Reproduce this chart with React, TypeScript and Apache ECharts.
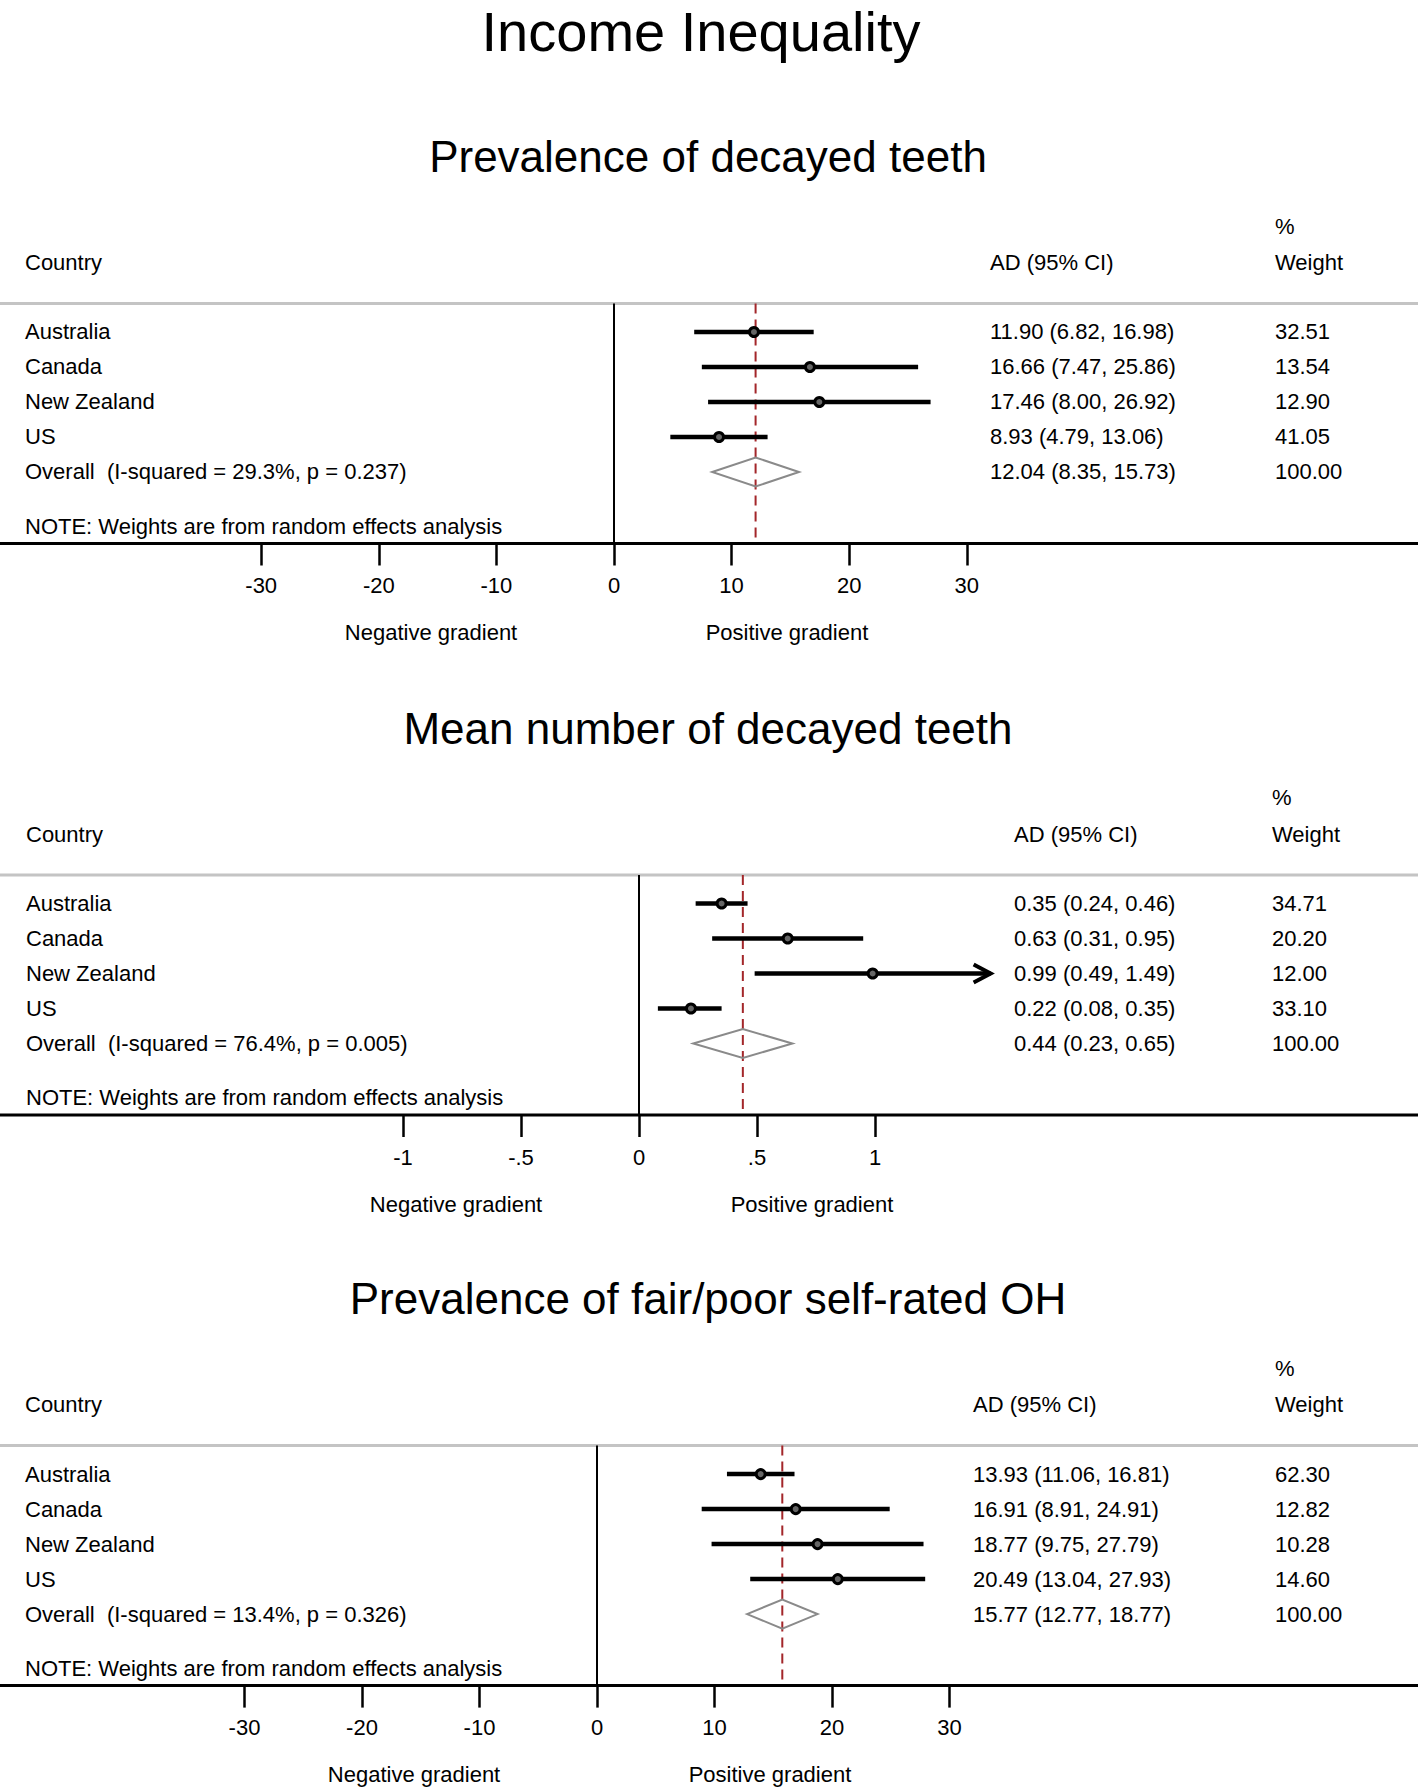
import React, { useEffect, useRef } from "react";
import * as echarts from "echarts";

// ---------- data ----------
const mainTitle = "Income Inequality";
const panelTitles = [
  "Prevalence of decayed teeth",
  "Mean number of decayed teeth",
  "Prevalence of fair/poor self-rated OH",
];
const countries = ["Australia", "Canada", "New Zealand", "US"];

const p1Est = [11.9, 16.66, 17.46, 8.93];
const p1Lo = [6.82, 7.47, 8.0, 4.79];
const p1Hi = [16.98, 25.86, 26.92, 13.06];
const p1Wt = ["32.51", "13.54", "12.90", "41.05"];
const p1Overall = [12.04, 8.35, 15.73];
const p1Stats = "(I-squared = 29.3%, p = 0.237)";
const p1Ticks = [-30, -20, -10, 0, 10, 20, 30];
const p1TickLabels = ["-30", "-20", "-10", "0", "10", "20", "30"];

const p2Est = [0.35, 0.63, 0.99, 0.22];
const p2Lo = [0.24, 0.31, 0.49, 0.08];
const p2Hi = [0.46, 0.95, 1.49, 0.35];
const p2Wt = ["34.71", "20.20", "12.00", "33.10"];
const p2Overall = [0.44, 0.23, 0.65];
const p2Stats = "(I-squared = 76.4%, p = 0.005)";
const p2Ticks = [-1, -0.5, 0, 0.5, 1];
const p2TickLabels = ["-1", "-.5", "0", ".5", "1"];

const p3Est = [13.93, 16.91, 18.77, 20.49];
const p3Lo = [11.06, 8.91, 9.75, 13.04];
const p3Hi = [16.81, 24.91, 27.79, 27.93];
const p3Wt = ["62.30", "12.82", "10.28", "14.60"];
const p3Overall = [15.77, 12.77, 18.77];
const p3Stats = "(I-squared = 13.4%, p = 0.326)";
const p3Ticks = [-30, -20, -10, 0, 10, 20, 30];
const p3TickLabels = ["-30", "-20", "-10", "0", "10", "20", "30"];

const overallLabel = "Overall";
const overallWeight = "100.00";
const noteText = "NOTE: Weights are from random effects analysis";
const headerCountry = "Country";
const headerAD = "AD (95% CI)";
const headerPct = "%";
const headerWeight = "Weight";
const negLabel = "Negative gradient";
const posLabel = "Positive gradient";

// ---------- layout ----------
const W = 1418;
const H = 1789;
const FONT = '"Liberation Sans", Arial, Helvetica, sans-serif';
const FS = 22;
const ROW_MIN = 0.1857; // axis range in row units (top of plot region)
const ROW_MAX = 7.043; // bottom (axis line)
const PLOT_H = 240;

const panels = [
  { title: panelTitles[0], G: 303.5, zeroX: 614, ppu: 11.76, est: p1Est, lo: p1Lo, hi: p1Hi, wt: p1Wt, overall: p1Overall, stats: p1Stats, ticks: p1Ticks, tickLabels: p1TickLabels, adX: 990, wX: 1275, cX: 25 },
  { title: panelTitles[1], G: 875, zeroX: 639, ppu: 236, est: p2Est, lo: p2Lo, hi: p2Hi, wt: p2Wt, overall: p2Overall, stats: p2Stats, ticks: p2Ticks, tickLabels: p2TickLabels, adX: 1014, wX: 1272, cX: 26 },
  { title: panelTitles[2], G: 1445.6, zeroX: 597, ppu: 11.75, est: p3Est, lo: p3Lo, hi: p3Hi, wt: p3Wt, overall: p3Overall, stats: p3Stats, ticks: p3Ticks, tickLabels: p3TickLabels, adX: 973, wX: 1275, cX: 25 },
];

const fmt = (v: number) => v.toFixed(2);
const ciText = (e: number, l: number, h: number) => `${fmt(e)} (${fmt(l)}, ${fmt(h)})`;

function txt(x: number, y: number, text: string, size = FS, align = "left") {
  return {
    type: "text",
    x,
    y,
    silent: true,
    style: {
      text,
      fill: "#000",
      font: `${size}px ${FONT}`,
      fontSize: size,
      fontFamily: FONT,
      align,
      textAlign: align,
      verticalAlign: "middle",
      textVerticalAlign: "middle",
    },
  };
}

function buildOption() {
  const grids: any[] = [];
  const xAxes: any[] = [];
  const yAxes: any[] = [];
  const series: any[] = [];
  const graphics: any[] = [];

  graphics.push(txt(701, 31, mainTitle, 56, "center"));

  panels.forEach((P, k) => {
    const tMin = P.ticks[0];
    const tMax = P.ticks[P.ticks.length - 1];
    const interval = P.ticks[1] - P.ticks[0];
    grids.push({
      left: P.zeroX + tMin * P.ppu,
      width: (tMax - tMin) * P.ppu,
      top: P.G,
      height: PLOT_H,
      containLabel: false,
    });
    xAxes.push({
      type: "value",
      gridIndex: k,
      min: tMin,
      max: tMax,
      interval,
      axisLine: { show: false },
      splitLine: { show: false },
      axisTick: { show: true, length: 22, lineStyle: { color: "#000", width: 2.5 } },
      axisLabel: {
        margin: 31,
        color: "#000",
        fontSize: FS,
        fontFamily: FONT,
        formatter: (v: number) => {
          const i = P.ticks.findIndex((t) => Math.abs(t - v) < 1e-9);
          return i >= 0 ? P.tickLabels[i] : "";
        },
      },
    });
    yAxes.push({
      type: "value",
      gridIndex: k,
      inverse: true,
      min: ROW_MIN,
      max: ROW_MAX,
      show: false,
    });

    // static graphics for panel
    graphics.push(txt(708, P.G - 147, P.title, 44, "center"));
    graphics.push(txt(P.cX, P.G - 41, headerCountry));
    graphics.push(txt(P.adX, P.G - 41, headerAD));
    graphics.push(txt(P.wX, P.G - 77.5, headerPct));
    graphics.push(txt(P.wX, P.G - 41, headerWeight));
    graphics.push({
      type: "line",
      silent: true,
      shape: { x1: 0, y1: P.G, x2: W, y2: P.G },
      style: { stroke: "#c4c4c4", lineWidth: 3 },
    });
    graphics.push({
      type: "line",
      silent: true,
      shape: { x1: 0, y1: P.G + PLOT_H, x2: W, y2: P.G + PLOT_H },
      style: { stroke: "#000", lineWidth: 3 },
    });
    graphics.push(txt(P.cX, P.G + 222.5, noteText));
    graphics.push(txt(P.zeroX - 183, P.G + 329, negLabel, FS, "center"));
    graphics.push(txt(P.zeroX + 173, P.G + 329, posLabel, FS, "center"));

    // zero line
    series.push({
      type: "custom",
      xAxisIndex: k,
      yAxisIndex: k,
      z: 1,
      silent: true,
      data: [[0]],
      renderItem: (params: any, api: any) => {
        const a = api.coord([api.value(0), ROW_MIN]);
        const b = api.coord([api.value(0), ROW_MAX]);
        return {
          type: "line",
          shape: { x1: a[0], y1: a[1], x2: b[0], y2: b[1] },
          style: { stroke: "#000", lineWidth: 2 },
        };
      },
    });

    // overall: dashed line + diamond + texts
    const ov = P.overall;
    series.push({
      type: "custom",
      xAxisIndex: k,
      yAxisIndex: k,
      z: 1,
      silent: true,
      data: [[ov[0], ov[1], ov[2], 5]],
      renderItem: (params: any, api: any) => {
        const e = api.value(0), l = api.value(1), h = api.value(2), row = api.value(3);
        const top = api.coord([e, ROW_MIN]);
        const bot = api.coord([e, ROW_MAX]);
        const pe = api.coord([e, row]);
        const pl = api.coord([l, row]);
        const ph = api.coord([h, row]);
        return {
          type: "group",
          children: [
            {
              type: "line",
              shape: { x1: top[0], y1: top[1], x2: bot[0], y2: bot[1] },
              style: { stroke: "#a3262a", lineWidth: 2, lineDash: [10, 6] },
            },
            {
              type: "polygon",
              shape: {
                points: [
                  [pl[0], pl[1]],
                  [pe[0], pe[1] - 14.5],
                  [ph[0], ph[1]],
                  [pe[0], pe[1] + 14.5],
                ],
              },
              style: { fill: "none", stroke: "#8a8a8a", lineWidth: 2 },
            },
            txt(P.cX, pe[1], `${overallLabel}  ${P.stats}`),
            txt(P.adX, pe[1], ciText(e, l, h)),
            txt(P.wX, pe[1], overallWeight),
          ],
        };
      },
    });

    // country rows
    series.push({
      type: "custom",
      xAxisIndex: k,
      yAxisIndex: k,
      z: 3,
      silent: true,
      data: countries.map((c, i) => [P.est[i], P.lo[i], P.hi[i], i + 1]),
      renderItem: (params: any, api: any) => {
        const i = params.dataIndex;
        const e = api.value(0), l = api.value(1), h = api.value(2), row = api.value(3);
        const pe = api.coord([e, row]);
        const pl = api.coord([l, row]);
        const ph = api.coord([h, row]);
        const children: any[] = [
          {
            type: "line",
            shape: { x1: pl[0], y1: pl[1], x2: ph[0], y2: ph[1] },
            style: { stroke: "#000", lineWidth: 4.5 },
          },
        ];
        if (h > tMax) {
          children.push({
            type: "polyline",
            shape: {
              points: [
                [ph[0] - 17, ph[1] - 9],
                [ph[0], ph[1]],
                [ph[0] - 17, ph[1] + 9],
              ],
            },
            style: { stroke: "#000", lineWidth: 4, fill: "none" },
          });
        }
        children.push({
          type: "circle",
          shape: { cx: pe[0], cy: pe[1], r: 4.5 },
          style: { fill: "#666", stroke: "#000", lineWidth: 3 },
        });
        children.push(txt(P.cX, pe[1], countries[i]));
        children.push(txt(P.adX, pe[1], ciText(e, l, h)));
        children.push(txt(P.wX, pe[1], P.wt[i]));
        return { type: "group", children };
      },
    });
  });

  return {
    animation: false,
    backgroundColor: "#fff",
    grid: grids,
    xAxis: xAxes,
    yAxis: yAxes,
    series,
    graphic: { elements: graphics },
  };
}

export default function App() {
  const ref = useRef<HTMLDivElement>(null);
  useEffect(() => {
    document.body.style.margin = "0";
    if (!ref.current) return;
    const chart = echarts.init(ref.current, null, { renderer: "svg" });
    chart.setOption(buildOption() as any);
    return () => chart.dispose();
  }, []);
  return <div ref={ref} style={{ width: W, height: H, background: "#fff" }} />;
}
